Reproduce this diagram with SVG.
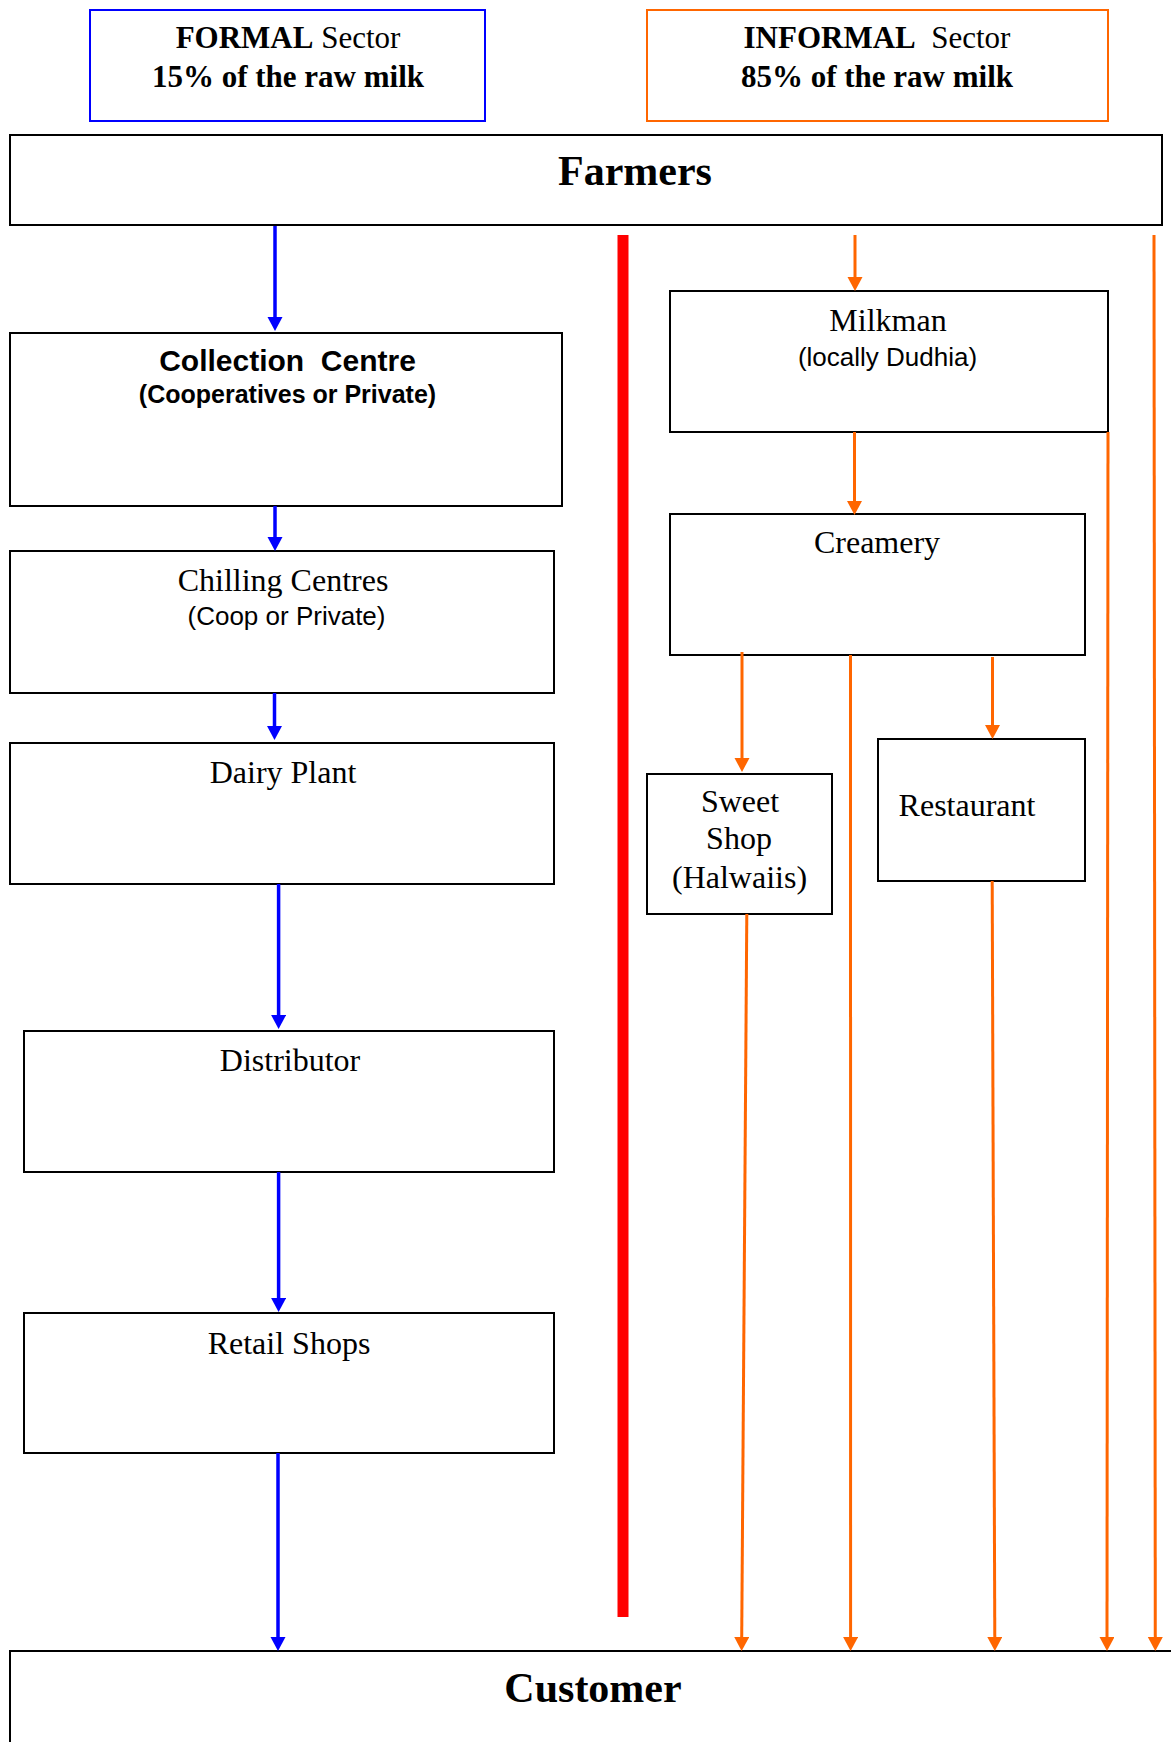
<svg xmlns="http://www.w3.org/2000/svg" width="1171" height="1742" viewBox="0 0 1171 1742">
<style>
.box{fill:#fff;stroke:#000;stroke-width:2}
.serif{font-family:"Liberation Serif","Times New Roman",serif;fill:#000}
.sans{font-family:"Liberation Sans",Arial,sans-serif;fill:#000}
.t32{font-size:32px}
.b{font-weight:bold}
.mid{text-anchor:middle}
.blue{stroke:#0000FF;stroke-width:3.5;fill:none}
.orange{stroke:#FF6600;stroke-width:3;fill:none}
</style>
<defs>
<marker id="ab" markerUnits="userSpaceOnUse" markerWidth="16" markerHeight="16" refX="2" refY="7.5" orient="auto">
<path d="M0,0 L14,7.5 L0,15 z" fill="#0000FF"/>
</marker>
<marker id="ao" markerUnits="userSpaceOnUse" markerWidth="16" markerHeight="16" refX="2" refY="7.5" orient="auto">
<path d="M0,0 L14,7.5 L0,15 z" fill="#FF6600"/>
</marker>
</defs>
<rect width="1171" height="1742" fill="#fff"/>

<g id="formal">
<rect x="90" y="10" width="395" height="111" fill="#fff" stroke="#0000FF" stroke-width="2"/>
<text class="serif mid" x="288" y="48" font-size="31" style="white-space:pre"><tspan font-weight="bold">FORMAL</tspan> Sector</text>
<text class="serif mid b" x="288" y="87" font-size="31">15% of the raw milk</text>
</g>
<g id="informal">
<rect x="647" y="10" width="461" height="111" fill="#fff" stroke="#FF6600" stroke-width="2"/>
<text class="serif mid" x="877" y="48" font-size="31" style="white-space:pre"><tspan font-weight="bold">INFORMAL</tspan>  Sector</text>
<text class="serif mid b" x="877" y="87" font-size="31">85% of the raw milk</text>
</g>
<g id="farmers">
<rect class="box" x="10" y="135" width="1152" height="90"/>
<text class="serif mid b" x="635" y="185" font-size="42">Farmers</text>
</g>
<g id="collection">
<rect class="box" x="10" y="333" width="552" height="173"/>
<text class="sans mid b" x="287.5" y="371" font-size="30" style="white-space:pre">Collection  Centre</text>
<text class="sans mid b" x="287.5" y="403" font-size="25">(Cooperatives or Private)</text>
</g>
<g id="chilling">
<rect class="box" x="10" y="551" width="544" height="142"/>
<text class="serif mid t32" x="283" y="591">Chilling Centres</text>
<text class="sans mid" x="286.5" y="625" font-size="26">(Coop or Private)</text>
</g>
<g id="dairy">
<rect class="box" x="10" y="743" width="544" height="141"/>
<text class="serif mid t32" x="283" y="783">Dairy Plant</text>
</g>
<g id="distributor">
<rect class="box" x="24" y="1031" width="530" height="141"/>
<text class="serif mid t32" x="290" y="1071">Distributor</text>
</g>
<g id="retail">
<rect class="box" x="24" y="1313" width="530" height="140"/>
<text class="serif mid t32" x="289" y="1354">Retail Shops</text>
</g>
<g id="milkman">
<rect class="box" x="670" y="291" width="438" height="141"/>
<text class="serif mid t32" x="888" y="331">Milkman</text>
<text class="sans mid" x="887.5" y="366" font-size="26">(locally Dudhia)</text>
</g>
<g id="creamery">
<rect class="box" x="670" y="514" width="415" height="141"/>
<text class="serif mid t32" x="877" y="553">Creamery</text>
</g>
<g id="sweetshop">
<rect class="box" x="647" y="774" width="185" height="140"/>
<text class="serif mid t32" x="740" y="812">Sweet</text>
<text class="serif mid t32" x="739" y="849">Shop</text>
<text class="serif mid t32" x="739.5" y="888">(Halwaiis)</text>
</g>
<g id="restaurant">
<rect class="box" x="878" y="739" width="207" height="142"/>
<text class="serif t32" x="898.6" y="816">Restaurant</text>
</g>
<g id="customer">
<rect class="box" x="10" y="1651" width="1166" height="120"/>
<text class="serif mid b" x="593" y="1702" font-size="42">Customer</text>
</g>

<g id="connectors">
<line x1="623" y1="235" x2="623" y2="1617" stroke="#FF0000" stroke-width="11"/>
<line class="blue" x1="275" y1="226" x2="275" y2="319" marker-end="url(#ab)"/>
<line class="blue" x1="275" y1="506" x2="275" y2="539" marker-end="url(#ab)"/>
<line class="blue" x1="274.5" y1="693" x2="274.5" y2="728" marker-end="url(#ab)"/>
<line class="blue" x1="278.6" y1="884" x2="278.6" y2="1017" marker-end="url(#ab)"/>
<line class="blue" x1="278.6" y1="1172" x2="278.6" y2="1300" marker-end="url(#ab)"/>
<line class="blue" x1="278" y1="1453" x2="278" y2="1639" marker-end="url(#ab)"/>
<line class="orange" x1="855" y1="235" x2="855" y2="279" marker-end="url(#ao)"/>
<line class="orange" x1="854.5" y1="432" x2="854.5" y2="503" marker-end="url(#ao)"/>
<line class="orange" x1="742" y1="652" x2="742" y2="760" marker-end="url(#ao)"/>
<line class="orange" x1="992.5" y1="657" x2="992.5" y2="727" marker-end="url(#ao)"/>
<line class="orange" x1="746.8" y1="914" x2="741.7" y2="1639" marker-end="url(#ao)"/>
<line class="orange" x1="850.5" y1="655" x2="850.6" y2="1639" marker-end="url(#ao)"/>
<line class="orange" x1="992.2" y1="881" x2="994.8" y2="1639" marker-end="url(#ao)"/>
<line class="orange" x1="1108" y1="432" x2="1107" y2="1639" marker-end="url(#ao)"/>
<line class="orange" x1="1154" y1="235" x2="1155.3" y2="1639" marker-end="url(#ao)"/>
</g>
</svg>
